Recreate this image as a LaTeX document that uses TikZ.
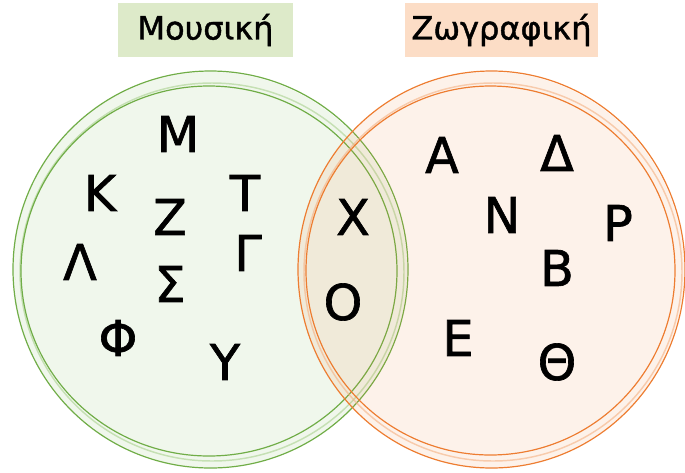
\documentclass[tikz,border=0pt]{standalone}
\usepackage{fontspec}
\setmainfont{DejaVu Sans}
\newfontfamily\thickfont[FakeBold=1.3]{DejaVu Sans}
\definecolor{grn}{HTML}{70AD47}
\definecolor{grnlt}{HTML}{A9D18E}
\definecolor{grntag}{HTML}{DDEAC9}
\definecolor{org}{HTML}{ED7D31}
\definecolor{orglt}{HTML}{F4B183}
\definecolor{orgtag}{HTML}{FCDDC6}

\begin{document}
\begin{tikzpicture}[x=0.75pt,y=-0.75pt,lt/.style={font=\thickfont\fontsize{37}{40}\selectfont,inner sep=0pt},tag/.style={font=\thickfont\fontsize{24}{26}\selectfont,minimum height=40.5pt,inner sep=0pt},ring/.style={line width=0.9pt},thin ring/.style={line width=1.1pt,opacity=0.6}]
\useasboundingbox (0,0) rectangle (685,472);
% sets
\fill[grn,opacity=0.1] (210,270) circle[x radius=197,y radius=198];
\draw[ring,grn] (210.5,269.5) ellipse[x radius=197.5,y radius=198.5];
\draw[thin ring,grnlt] (212,272) ellipse[x radius=192,y radius=189];
\draw[ring,grn] (209,271) ellipse[x radius=188,y radius=185];
\fill[org,opacity=0.1] (491,270) circle[x radius=193,y radius=198];
\draw[ring,org] (491.5,269.5) ellipse[x radius=193.5,y radius=198.5];
\draw[thin ring,orglt] (493,272) ellipse[x radius=189,y radius=189];
\draw[ring,org] (490.5,270.5) ellipse[x radius=184.5,y radius=184.5];
% titles
\node[tag,fill=grntag,minimum width=131pt](mus) at (205.5,30){Μουσική};\node[tag,fill=orgtag,minimum width=145pt](zog) at (501.5,30){Ζωγραφική};
% elements
\foreach \ch/\x/\y [count=\i] in {Μ/178/134,Κ/100/193,Ζ/170/217,Τ/245/193,Λ/80/262,Γ/248/253,Σ/170/284,Φ/118/338,Υ/225/362}{\node[lt](m\i) at (\x,\y){\ch};}
\foreach \ch/\x/\y [count=\i] in {Χ/353/217,Ο/343/302}{\node[lt](c\i) at (\x,\y){\ch};}
\foreach \ch/\x/\y [count=\i] in {Α/442/155,Δ/557/153,Ν/502/215,Ρ/618/223,Β/557/268,Ε/458/338,Θ/557/362}{\node[lt](z\i) at (\x,\y){\ch};}
\end{tikzpicture}
\end{document}
